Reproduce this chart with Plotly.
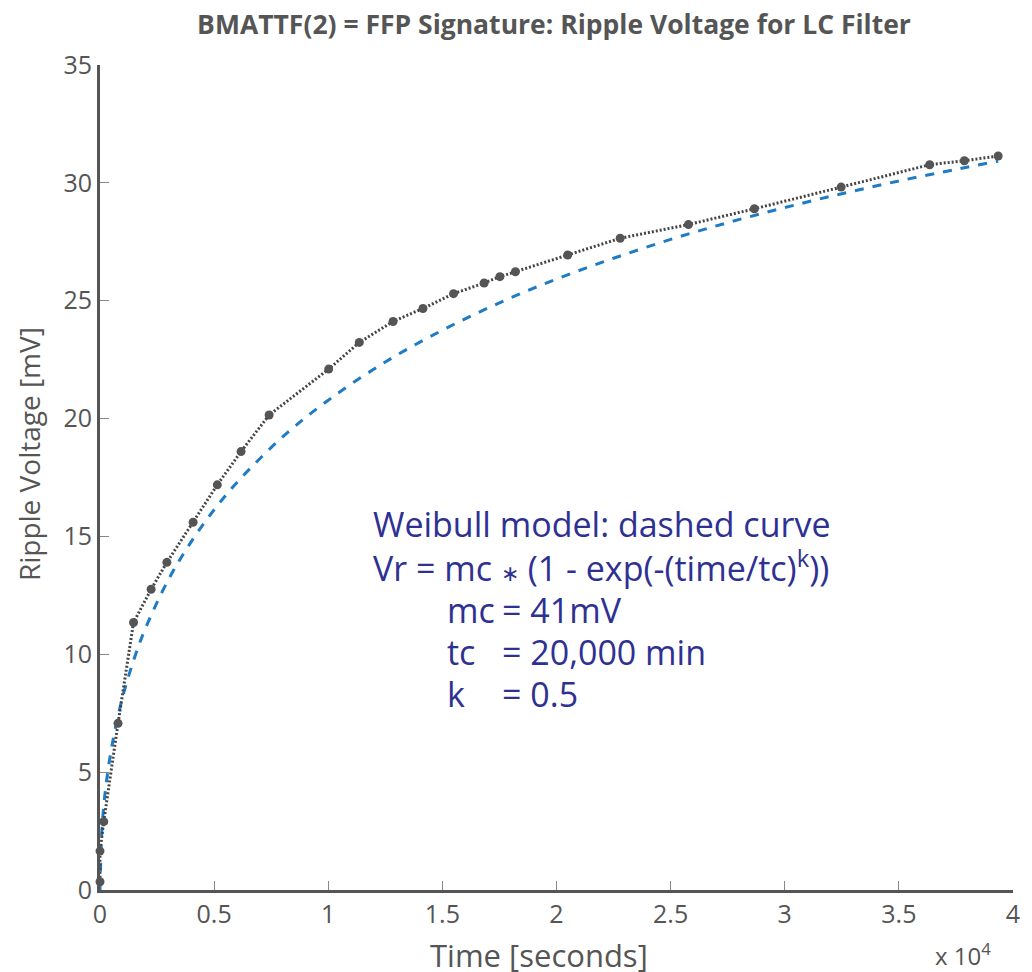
import plotly.graph_objects as go

# Measured data (time in seconds, ripple voltage in mV)
time_s = [0, 0, 165, 790, 1470, 2240, 2930, 4080, 5140, 6180, 7410, 10020, 11360,
          12840, 14150, 15490, 16830, 17520, 18200, 20490, 22790, 25780, 28670,
          32470, 36350, 37870, 39350]
ripple_mv = [0.35, 1.65, 2.9, 7.07, 11.35, 12.76, 13.9, 15.6, 17.19, 18.6, 20.15,
             22.1, 23.23, 24.12, 24.67, 25.3, 25.75, 26.02, 26.23, 26.94, 27.65,
             28.23, 28.9, 29.82, 30.77, 30.94, 31.14]

# Weibull model curve (dashed)
model_t = [0, 100, 300, 600, 1000, 1500, 2000, 3000, 4000, 5000, 6000, 8000, 10000,
           12500, 15000, 17500, 20000, 22500, 25000, 27500, 30000, 32500, 35000,
           37500, 39350]
model_v = [0, 2.80, 4.73, 6.52, 8.22, 9.82, 11.12, 13.17, 14.78, 16.13, 17.29, 19.22,
           20.78, 22.40, 23.75, 24.91, 25.92, 26.80, 27.60, 28.31, 28.95, 29.54,
           30.08, 30.57, 30.92]

x_tickvals = [0, 5000, 10000, 15000, 20000, 25000, 30000, 35000, 40000]
x_ticktext = ["0", "0.5", "1", "1.5", "2", "2.5", "3", "3.5", "4"]
y_tickvals = [0, 5, 10, 15, 20, 25, 30, 35]

W, H = 1032, 972
L, T = 99.5, 65
R = W - 1020
B = H - 890
pw, ph = W - L - R, H - T - B

def px(xp):  # page pixel -> paper x
    return (xp - L) / pw

def py(yp):  # page pixel -> paper y
    return (H - B - yp) / ph

gray = "#555555"
navy = "#2E3192"
base_font = "Open Sans"

fig = go.Figure()
fig.add_trace(go.Scatter(
    x=model_t, y=model_v, mode="lines",
    line=dict(color="#1F7BC4", width=3, dash="dash", shape="spline"),
    showlegend=False, hoverinfo="skip"))
fig.add_trace(go.Scatter(
    x=time_s, y=ripple_mv, mode="lines+markers",
    line=dict(color="#444444", width=3, dash="2px,2px"),
    marker=dict(color="#555555", size=9),
    cliponaxis=False, showlegend=False))

ann = []
fs = 34
text_lines = [
    (373, 524, "Weibull model: dashed curve"),
    (373, 566, "Vr = mc <span style='font-size:22px'>\u2217</span> (1 - exp(-(time/tc)<sup>k</sup>))"),
    (447, 610, "mc"), (503, 610, "= 41mV"),
    (447, 652, "tc"), (503, 652, "= 20,000 min"),
    (447, 694, "k"), (503, 694, "= 0.5"),
]
for xp, yp, t in text_lines:
    ann.append(dict(x=px(xp), y=py(yp), xref="paper", yref="paper", text=t,
                    showarrow=False, xanchor="left", yanchor="middle",
                    font=dict(family=base_font, size=fs, color=navy)))

ann.append(dict(x=px(542), y=py(955), xref="paper", yref="paper",
                text="Time [seconds]", showarrow=False, xanchor="center",
                yanchor="middle", font=dict(family=base_font, size=31, color=gray)))
ann.append(dict(x=px(970), y=py(954), xref="paper", yref="paper",
                text="x 10<sup>4</sup>", showarrow=False, xanchor="center",
                yanchor="middle", font=dict(family=base_font, size=24, color=gray)))
ann.append(dict(x=px(28), y=py(454), xref="paper", yref="paper",
                text="Ripple Voltage [mV]", showarrow=False, textangle=-90,
                xanchor="center", yanchor="middle",
                font=dict(family=base_font, size=28, color=gray)))

fig.update_layout(
    width=W, height=H, autosize=False,
    margin=dict(l=L, r=R, t=T, b=B),
    paper_bgcolor="white", plot_bgcolor="white",
    title=dict(text="<b>BMATTF(2) = FFP Signature: Ripple Voltage for LC Filter</b>",
               x=554 / W, xref="container", xanchor="center",
               y=1 - 25 / H, yref="container", yanchor="middle",
               font=dict(family=base_font, size=26.5, color=gray)),
    annotations=ann,
    font=dict(family=base_font, color=gray),
)
fig.update_xaxes(range=[0, 40000], tickvals=x_tickvals, ticktext=x_ticktext,
                 showline=True, linecolor=gray, linewidth=3, mirror=False,
                 ticks="inside", ticklen=9, tickwidth=1, tickcolor="#888888",
                 showgrid=False, zeroline=False, ticklabeloverflow="allow",
                 tickfont=dict(family=base_font, size=25, color=gray))
fig.update_yaxes(range=[0, 35], tickvals=y_tickvals,
                 showline=True, linecolor=gray, linewidth=3, mirror=False,
                 ticks="inside", ticklen=9, tickwidth=1, tickcolor="#888888",
                 showgrid=False, zeroline=False,
                 tickfont=dict(family=base_font, size=25, color=gray))

post = ("document.body.style.margin='0px';"
        "document.body.style.overflow='hidden';"
        "Plotly.relayout('{plot_id}', {width: %d, height: %d});" % (W, H))
fig.write_html("out.html", post_script=post,
               config={"displayModeBar": False, "responsive": False})
